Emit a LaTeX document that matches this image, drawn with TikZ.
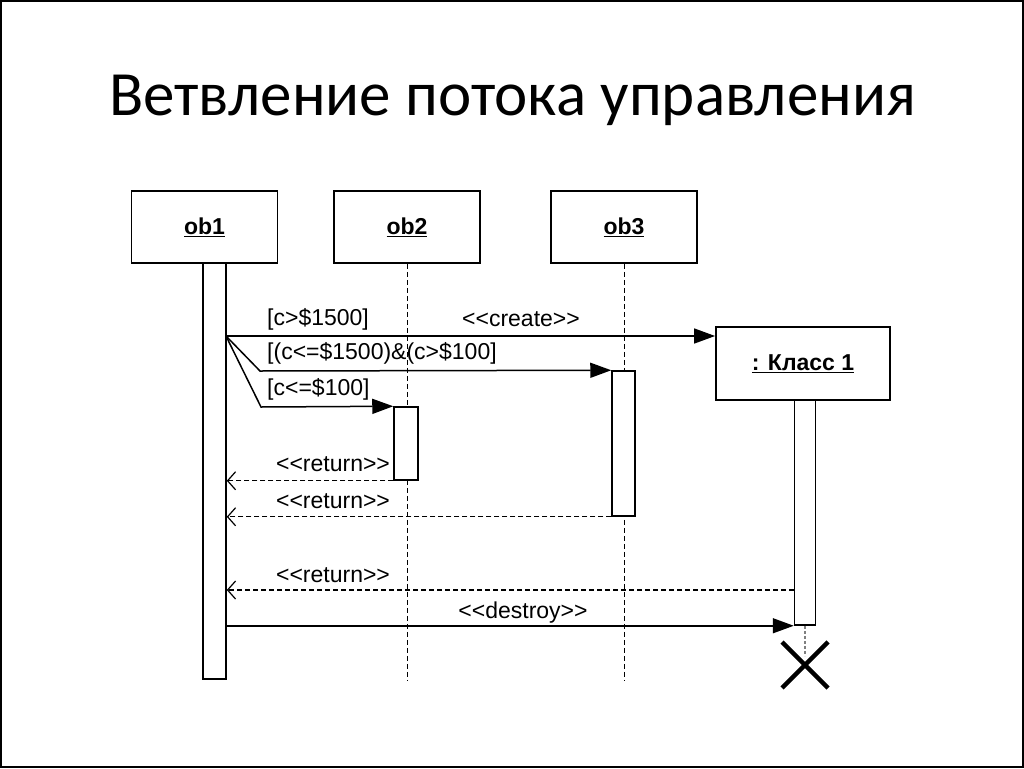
\documentclass[tikz,border=0pt]{standalone}
\usepackage{fontspec}
\setmainfont{Liberation Sans}
\newfontfamily\titlefont{Carlito}
\usetikzlibrary{arrows.meta,calc}
\begin{document}
\begin{tikzpicture}[x=1pt,y=-1pt,
  objbox/.style={draw,line width=1.8pt,minimum width=146pt,minimum height=72pt,inner sep=0pt,
    font=\fontsize{23}{23}\selectfont\bfseries},
  actbox/.style={draw,line width=1.5pt,fill=white,inner sep=0pt,minimum width=23pt},
  lbl/.style={inner sep=0pt,font=\fontsize{23}{23}\selectfont},
  msg/.style={line width=1.5pt,-{Triangle[length=21pt,width=15pt]}},
  ret/.style={line width=1.2pt,dash pattern=on 5pt off 3pt,-{Straight Barb[length=8pt,width=18pt,line width=1.2pt]}},
  life/.style={line width=0.9pt,dash pattern=on 5pt off 3pt}]
\useasboundingbox (0,0) rectangle (1024,768);
\draw[line width=2pt] (1,1) rectangle (1023,767);
\node[anchor=base,inner sep=0pt,font=\titlefont\fontsize{63}{63}\selectfont] (title) at (512.5,115) {Ветвление потока управления};
% objects
\node[objbox] (ob1) at (204.5,227) {\underline{ob1}};
\node[objbox] (ob2) at (407,227) {\underline{ob2}};
\node[objbox] (ob3) at (624,227) {\underline{ob3}};
\node[objbox,minimum width=174pt,minimum height=73pt] (k1) at (803,363.5) {\underline{: Класс 1}};
% lifelines
\coordinate (bot) at (0,680);
\draw[life] (ob2.south) -- (ob2.south |- bot);
\draw[life] (ob3.south) -- (ob3.south |- bot);
% activations
\node[actbox,minimum height=416pt] (a1) at (214.5,471) {};
\node[actbox,minimum width=24pt,minimum height=73pt] (a2) at (406,443.5) {};
\node[actbox,minimum height=145pt] (a3) at (623.5,443.5) {};
\node[actbox,minimum width=21pt,minimum height=225pt] (ak) at (805,512.5) {};
% fork messages
\coordinate (fork) at (226,336);
\draw[msg] (fork) -- (k1.west |- fork);
\draw[msg] (fork) -- ++(34,35) -- (a3.north west);
\draw[msg] (fork) -- ++(35,71) -- (a2.north west);
\node[lbl,anchor=base west] (l1) at (267,325) {[c>\$1500]};
\node[lbl,anchor=base] (l2) at (521,326) {<{}<create>{}>};
\node[lbl,anchor=base west] (l3) at (267,359) {[(c<=\$1500)\&(c>\$100]};
\node[lbl,anchor=base west] (l4) at (267,395) {[c<=\$100]};
% returns
\coordinate (r3y) at (0,590);
\draw[ret] (a2.south west) -- (a1.east |- a2.south west);
\draw[ret] (a3.south west) -- (a1.east |- a3.south west);
\draw[ret] (ak.west |- r3y) -- (a1.east |- r3y);
\node[lbl,anchor=base] (l5) at (333,471) {<{}<return>{}>};
\node[lbl,anchor=base] (l6) at (333,508) {<{}<return>{}>};
\node[lbl,anchor=base] (l7) at (333,582) {<{}<return>{}>};
% destroy
\draw[msg] (a1.east |- ak.south) -- (ak.south west);
\node[lbl,anchor=base] (l8) at (523,618) {<{}<destroy>{}>};
\draw[line width=1.2pt,gray,dash pattern=on 3pt off 2pt] (ak.south) -- ++(0,30) coordinate (xc);
\coordinate (xm) at (805,665);
\draw[line width=4.5pt] ($(xm)+(-23,-23)$) -- ($(xm)+(23,23)$);
\draw[line width=4.5pt] ($(xm)+(23,-23)$) -- ($(xm)+(-23,23)$);
\end{tikzpicture}
\end{document}
